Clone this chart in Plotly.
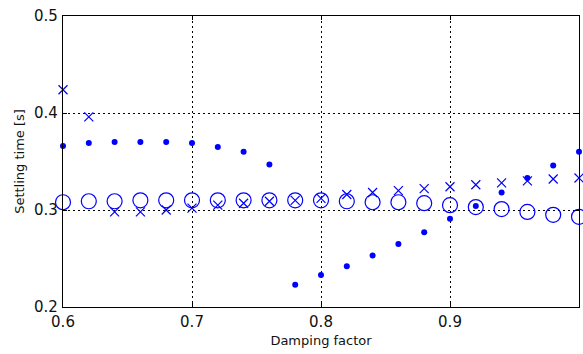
import plotly.graph_objects as go

damping = [0.60, 0.62, 0.64, 0.66, 0.68, 0.70, 0.72, 0.74, 0.76, 0.78, 0.80,
           0.82, 0.84, 0.86, 0.88, 0.90, 0.92, 0.94, 0.96, 0.98, 1.00]

series_dots = [0.366, 0.369, 0.370, 0.370, 0.370, 0.369, 0.365, 0.360, 0.347, 0.223, 0.233,
               0.242, 0.253, 0.265, 0.277, 0.291, 0.304, 0.318, 0.333, 0.346, 0.360]

series_x = [0.424, 0.396, 0.298, 0.298, 0.300, 0.302, 0.305, 0.307, 0.309, 0.310, 0.312,
            0.316, 0.318, 0.320, 0.322, 0.324, 0.326, 0.328, 0.330, 0.332, 0.333]

series_circles = [0.308, 0.309, 0.309, 0.310, 0.310, 0.310, 0.310, 0.310, 0.310, 0.310, 0.310,
                  0.309, 0.308, 0.308, 0.307, 0.305, 0.303, 0.301, 0.298, 0.295, 0.293]

x_ticks = [0.6, 0.7, 0.8, 0.9, 1.0]
x_tick_labels = ["0.6", "0.7", "0.8", "0.9", "1"]
y_ticks = [0.2, 0.3, 0.4, 0.5]
y_tick_labels = ["0.2", "0.3", "0.4", "0.5"]

blue = "#0000ff"

fig = go.Figure()
fig.add_trace(go.Scatter(
    x=damping, y=series_circles, mode="markers", cliponaxis=False,
    marker=dict(symbol="circle-open", size=15, color=blue, line=dict(width=1.2, color=blue)),
))
fig.add_trace(go.Scatter(
    x=damping, y=series_x, mode="markers", cliponaxis=False,
    marker=dict(symbol="x-thin-open", size=9, color=blue, line=dict(width=1.2, color=blue)),
))
fig.add_trace(go.Scatter(
    x=damping, y=series_dots, mode="markers", cliponaxis=False,
    marker=dict(symbol="circle", size=6, color=blue, line=dict(width=0)),
))

axis_common = dict(
    showline=True, linecolor="black", linewidth=1.2, mirror="ticks",
    ticks="inside", ticklen=4, tickcolor="black",
    showgrid=True, gridcolor="black", gridwidth=1.1, griddash="2px,3px",
    zeroline=False,
    tickfont=dict(family="DejaVu Sans", size=15, color="#111"),
)

fig.update_xaxes(
    range=[0.6, 1.0], tickvals=x_ticks, ticktext=x_tick_labels,
    title=dict(text="Damping factor", font=dict(family="DejaVu Sans", size=13, color="#111"), standoff=5),
    ticklabelstandoff=1,
    **axis_common,
)
fig.update_yaxes(
    range=[0.2, 0.5], tickvals=y_ticks, ticktext=y_tick_labels,
    title=dict(text="Settling time [s]", font=dict(family="DejaVu Sans", size=13, color="#111"), standoff=6),
    ticklabelstandoff=1,
    **axis_common,
)

fig.update_layout(
    width=583, height=354,
    margin=dict(l=63, r=4, t=16, b=47),
    plot_bgcolor="white", paper_bgcolor="white",
    showlegend=False,
)

fig.write_html("out.html")
